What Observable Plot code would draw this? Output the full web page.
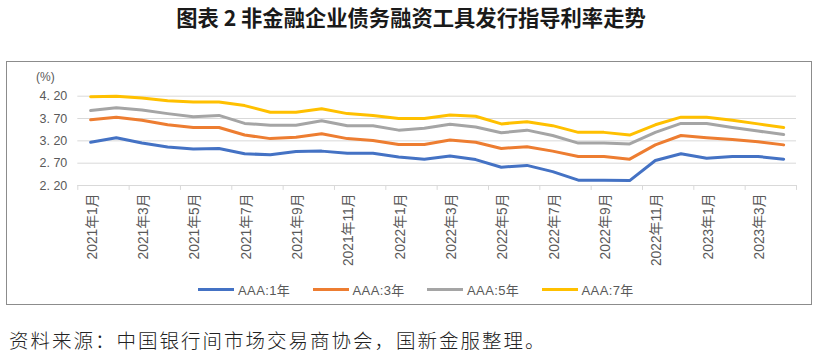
<!DOCTYPE html>
<html><head><meta charset="utf-8">
<script src="https://cdn.jsdelivr.net/npm/d3@7"></script>
<script src="https://cdn.jsdelivr.net/npm/@observablehq/plot@0.6"></script>
<style>
body{margin:0;background:#fff;}
#wrap{position:relative;width:818px;height:357px;overflow:hidden;font-family:"Noto Sans CJK SC",sans-serif;}
#title{position:absolute;left:0;top:3px;width:822px;text-align:center;font-size:21.3px;font-weight:700;color:#1a1a1a;line-height:28px;white-space:nowrap;}
#frame{position:absolute;left:6px;top:61px;width:804px;height:242px;border:1px solid #8c8c8c;}
#chart{position:absolute;left:0;top:62px;}
#unit{position:absolute;left:36px;top:70px;font-size:12px;line-height:14px;color:#595959;font-family:"Liberation Sans",sans-serif;}
#legend{position:absolute;left:198px;top:281px;height:16px;display:flex;}
.item{width:114.5px;display:flex;align-items:center;font-size:13px;color:#595959;font-family:"Liberation Sans","Noto Sans CJK SC",sans-serif;letter-spacing:0.4px;}
.sw{width:36px;height:3px;margin-right:4px;}
#caption{position:absolute;left:9px;top:330px;font-size:19.5px;line-height:20px;letter-spacing:2px;color:#222;white-space:nowrap;font-weight:300;}
</style></head>
<body>
<div id="wrap">
  <div id="title">图表 2 非金融企业债务融资工具发行指导利率走势</div>
  <div id="frame"></div>
  <div id="unit">(%)</div>
  <div id="chart"></div>
  <div id="legend"></div>
  <div id="caption">资料来源：中国银行间市场交易商协会，国新金服整理。</div>
</div>
<script>
const months = ["2021年1月","2021年2月","2021年3月","2021年4月","2021年5月","2021年6月","2021年7月","2021年8月","2021年9月","2021年10月","2021年11月","2021年12月",
  "2022年1月","2022年2月","2022年3月","2022年4月","2022年5月","2022年6月","2022年7月","2022年8月","2022年9月","2022年10月","2022年11月","2022年12月",
  "2023年1月","2023年2月","2023年3月","2023年4月"];
const aaa1 = [3.17,3.27,3.15,3.06,3.02,3.03,2.91,2.89,2.96,2.97,2.92,2.92,2.84,2.79,2.86,2.78,2.61,2.65,2.51,2.32,2.32,2.31,2.76,2.91,2.81,2.85,2.85,2.79];
const aaa3 = [3.67,3.73,3.66,3.56,3.50,3.50,3.33,3.25,3.28,3.36,3.25,3.21,3.12,3.12,3.22,3.17,3.03,3.07,2.97,2.85,2.85,2.79,3.11,3.32,3.27,3.23,3.18,3.11];
const aaa5 = [3.88,3.94,3.89,3.81,3.74,3.77,3.59,3.55,3.55,3.65,3.54,3.54,3.44,3.48,3.57,3.51,3.38,3.44,3.32,3.15,3.15,3.13,3.39,3.59,3.59,3.50,3.42,3.34];
const aaa7 = [4.19,4.20,4.16,4.10,4.07,4.07,3.99,3.84,3.84,3.92,3.81,3.77,3.70,3.70,3.78,3.75,3.58,3.63,3.54,3.39,3.39,3.33,3.56,3.73,3.73,3.66,3.58,3.50];
const seriesNames = ["AAA:1年","AAA:3年","AAA:5年","AAA:7年"];
const seriesColors = ["#4472C4","#ED7D31","#A5A5A5","#FFC000"];
const yTicks = [2.20, 2.70, 3.20, 3.70, 4.20];

const seriesValues = [aaa1, aaa3, aaa5, aaa7];
const rows = seriesValues.flatMap((vals, s) => vals.map((v, i) => ({i, v, name: seriesNames[s]})));
const labelIdx = months.map((_, i) => i).filter(i => i % 2 === 0);
const tickPos = d3.range(-0.5, months.length, 2);
const fmt = d => d.toFixed(2).replace(".", ". ");

const chart = Plot.plot({
  width: 818, height: 215,
  marginLeft: 77.3, marginRight: 22, marginTop: 33.7, marginBottom: 92,
  x: {domain: [-0.5, months.length - 0.5], axis: null},
  y: {domain: [2.2, 4.2], axis: null},
  color: {domain: seriesNames, range: seriesColors},
  style: {background: "transparent", overflow: "visible", fontFamily: "'Liberation Sans','Noto Sans CJK SC',sans-serif"},
  marks: [
    Plot.ruleY(yTicks, {stroke: "#d9d9d9", strokeWidth: 1}),
    Plot.ruleX(tickPos, {x: d => d, y1: 2.2, y2: 2.2 - 0.11, stroke: "#d9d9d9"}),
    Plot.text(yTicks, {x: -0.5, y: d => d, text: fmt, textAnchor: "end", dx: -10.5, fontSize: 12.5, fill: "#595959"}),
    Plot.text(labelIdx, {x: d => d, y: 2.2, text: d => months[d], rotate: -90, textAnchor: "end", dx: 1.5, dy: 8, fontSize: 13.8, fill: "#595959"}),
    Plot.line(rows, {x: "i", y: "v", z: "name", stroke: "name", strokeWidth: 3})
  ]
});
document.getElementById("chart").appendChild(chart);

const legend = document.getElementById("legend");
seriesNames.forEach((n, k) => {
  const it = document.createElement("div"); it.className = "item";
  const sw = document.createElement("div"); sw.className = "sw"; sw.style.background = seriesColors[k];
  const tx = document.createElement("span"); tx.textContent = n;
  it.appendChild(sw); it.appendChild(tx); legend.appendChild(it);
});
</script>
</body></html>
